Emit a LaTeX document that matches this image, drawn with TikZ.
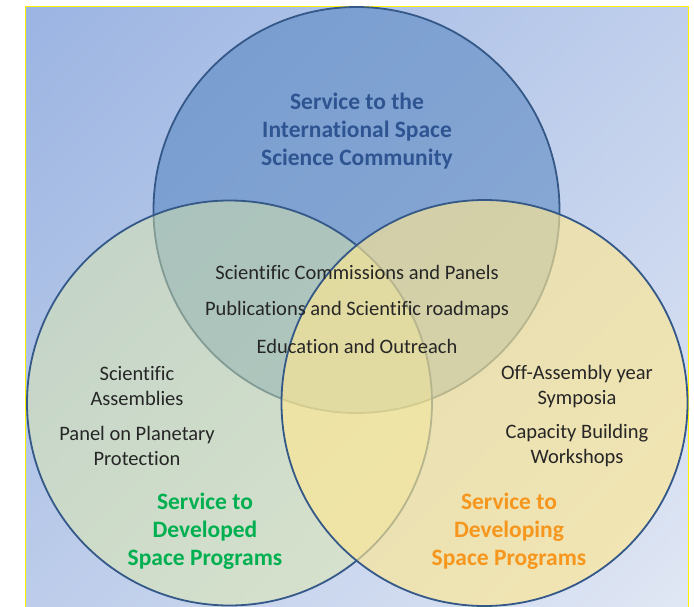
\documentclass[tikz,border=0pt]{standalone}
\usepackage{fontspec}
\setmainfont{Carlito}[Ligatures=NoCommon]
\usetikzlibrary{shadings}
\definecolor{bgUL}{RGB}{155,180,226}
\definecolor{bgUR}{RGB}{192,207,236}
\definecolor{bgLL}{RGB}{188,204,234}
\definecolor{bgLR}{RGB}{224,231,244}
\definecolor{topfill}{RGB}{79,129,189}
\definecolor{leftfill}{RGB}{227,238,163}
\definecolor{rightfill}{RGB}{254,231,146}
\definecolor{rim}{RGB}{52,88,136}
\definecolor{titleblue}{RGB}{46,84,145}
\definecolor{titlegreen}{RGB}{0,176,80}
\definecolor{titleorange}{RGB}{247,150,28}
\begin{document}
\begin{tikzpicture}[x=1pt,y=-1pt,
  ring/.style={draw=rim,line width=1.8pt},
  body/.style={font=\fontsize{20.5}{25}\selectfont,text=black!85,align=center,inner sep=0pt},
  heading/.style={font=\fontsize{23.5}{28}\selectfont\bfseries,align=center,inner sep=0pt}]
\useasboundingbox (0,0) rectangle (694,606);
\shade[upper left=bgUL,upper right=bgUR,lower left=bgLL,lower right=bgLR] (25,6) rectangle (689,606);
\draw[yellow,line width=1.5pt] (25.5,607) -- (25.5,6.5) -- (688.5,6.5) -- (688.5,607);
% circles
\fill[topfill,fill opacity=0.52] (356.5,210) circle (203);
\draw[ring] (356.5,210) circle (203);
\fill[leftfill,fill opacity=0.45] (229.5,403) circle (202.5);
\draw[ring] (229.5,403) circle (202.5);
\fill[rightfill,fill opacity=0.65] (484.5,403) circle (203);
\draw[ring] (484.5,403) circle (203);
% texts
\node[heading,text=titleblue] (t) at (357,131) {Service to the\\International Space\\Science Community};
\node[body] (c1) at (357,272) {Scientific Commissions and Panels};
\node[body] (c2) at (357,310) {Publications and Scientific roadmaps};
\node[body] (c3) at (357,346) {Education and Outreach};
\node[body] (l1) at (137,386) {Scientific\\Assemblies};
\node[body] (l2) at (137,446) {Panel on Planetary\\Protection};
\node[body] (r1) at (577,387) {Off-Assembly year\\Symposia};
\node[body] (r2) at (577,446) {Capacity Building\\Workshops};
\node[heading,text=titlegreen] (g) at (205,531) {Service to\\Developed\\Space Programs};
\node[heading,text=titleorange] (o) at (509,531) {Service to\\Developing\\Space Programs};
\end{tikzpicture}
\end{document}
